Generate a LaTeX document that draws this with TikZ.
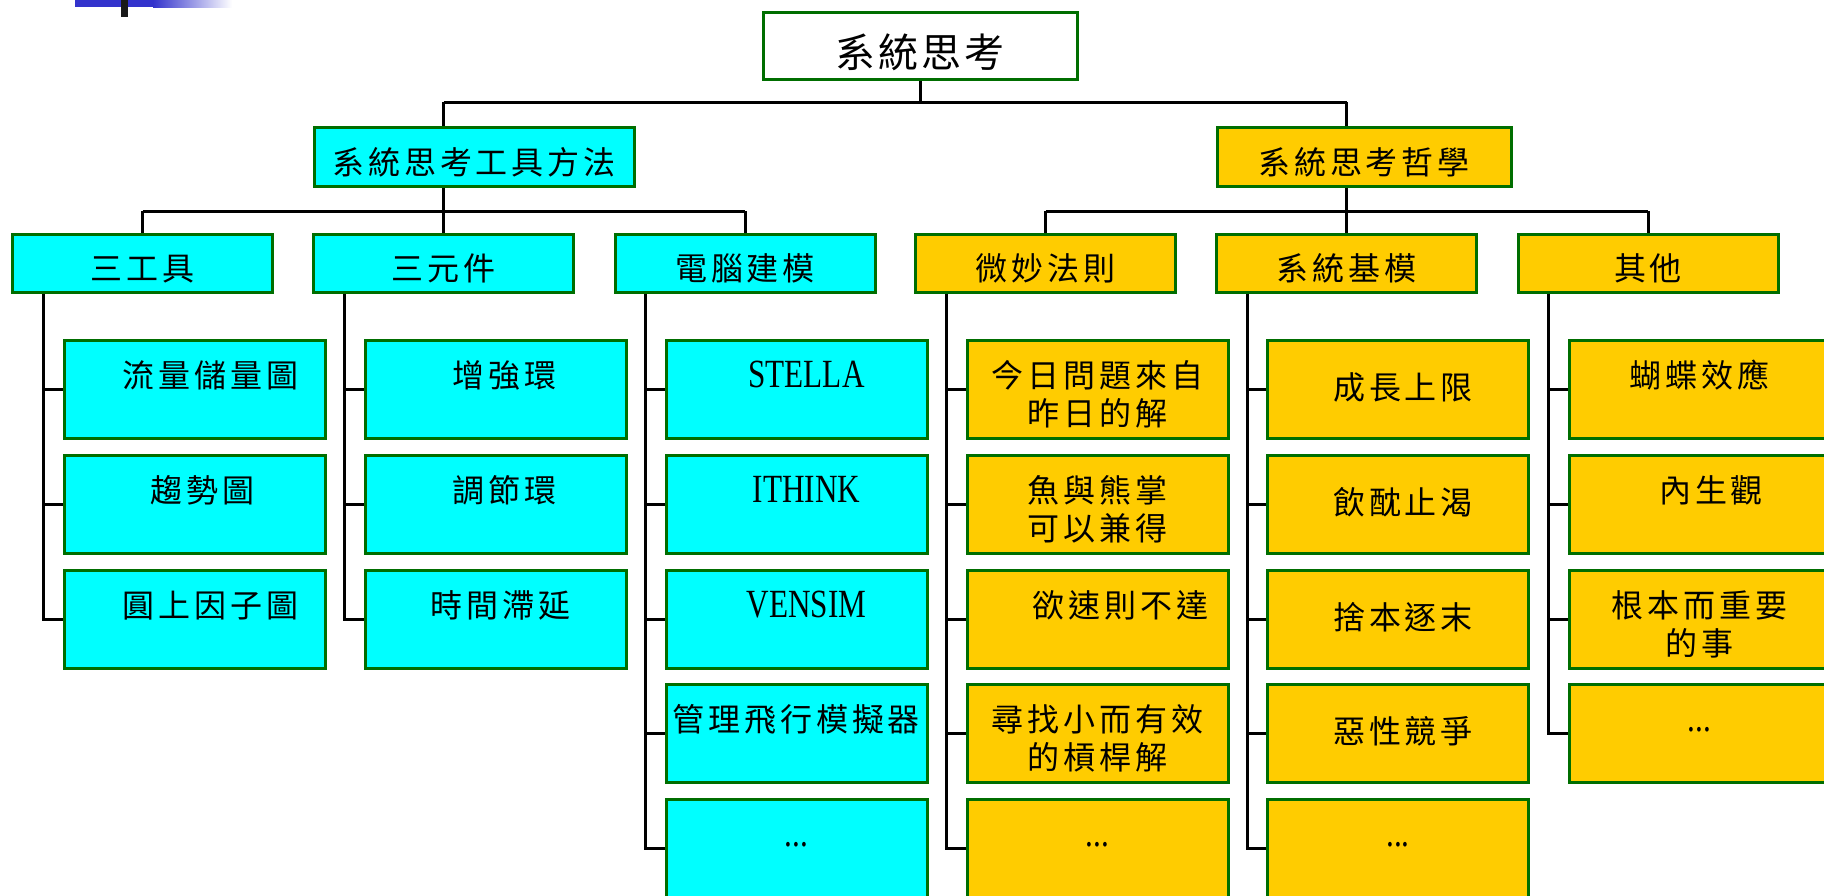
\documentclass[tikz,border=0pt]{standalone}
\usepackage{fontspec}
\newfontfamily\cjk[LetterSpace=12]{Noto Sans CJK TC}
\newfontfamily\cjktop[LetterSpace=8]{Noto Sans CJK TC}
\newfontfamily\lat[FakeStretch=0.78]{Liberation Serif}
\definecolor{boxgreen}{RGB}{0,110,0}
\definecolor{toolcyan}{RGB}{0,255,255}
\definecolor{philgold}{RGB}{255,204,0}
\definecolor{barblue}{RGB}{51,51,204}
\tikzset{
  box/.style={draw=boxgreen, line width=3pt, inner sep=0pt, align=center,
    font=\cjk\fontsize{32}{38}\selectfont},
  toolbox/.style={box, fill=toolcyan},
  philbox/.style={box, fill=philgold},
  headbox/.style={minimum width=260pt, minimum height=58pt, text height=46pt, text depth=12pt},
  leafbox/.style={minimum width=261pt, text width=261pt, text height=47pt, text depth=51pt},
  midleaf/.style={leafbox, text height=59pt, text depth=39pt},
  nudge/.style={execute at begin node=\hspace*{#1}},
  latin/.style={font=\lat\fontsize{40}{44}\selectfont},
  link/.style={line width=3pt},
}
\begin{document}
\begin{tikzpicture}[x=1pt,y=-1pt]
  \useasboundingbox (0,0) rectangle (1824,895);
  \clip (0,0) rectangle (1824,895);
  % corner mark
  \fill[barblue] (75,0) rectangle (154,7);
  \shade[left color=barblue, right color=white] (153,0) rectangle (232,7);
  \fill[black!90] (121,0) rectangle (128,17);

  \node[box, fill=white, minimum width=314pt, minimum height=67pt, text height=55pt,
    text depth=12pt, font=\cjktop\fontsize{40}{44}\selectfont] (top) at (920,45.5) {系統思考};
  \node[toolbox, minimum width=320pt, minimum height=59pt, text height=47pt, text depth=12pt]
    (tools) at (474,156.5) {系統思考工具方法};
  \node[philbox, minimum width=294pt, minimum height=59pt, text height=47pt, text depth=12pt]
    (phil) at (1364,156.5) {系統思考哲學};

  \node[toolbox, headbox] (t1) at (142.5,263) {三工具};
  \node[toolbox, headbox] (t2) at (443.5,263) {三元件};
  \node[toolbox, headbox] (t3) at (745,263) {電腦建模};
  \node[philbox, headbox] (p1) at (1045.5,263) {微妙法則};
  \node[philbox, headbox] (p2) at (1346.5,263) {系統基模};
  \node[philbox, headbox] (p3) at (1648,263) {其他};

  % tools
  \node[toolbox, leafbox, nudge=32pt] (c11) at (194.5,389) {流量儲量圖};
  \node[toolbox, leafbox, nudge=16pt] (c12) at (194.5,504) {趨勢圖};
  \node[toolbox, leafbox, nudge=32pt] (c13) at (194.5,619) {圓上因子圖};
  \node[toolbox, leafbox, nudge=18pt] (c21) at (495.5,389) {增強環};
  \node[toolbox, leafbox, nudge=18pt] (c22) at (495.5,504) {調節環};
  \node[toolbox, leafbox, nudge=10pt] (c23) at (495.5,619) {時間滯延};
  \node[toolbox, leafbox, latin, nudge=20pt] (c31) at (796.5,389) {STELLA};
  \node[toolbox, leafbox, latin, nudge=20pt] (c32) at (796.5,504) {ITHINK};
  \node[toolbox, leafbox, latin, nudge=20pt] (c33) at (796.5,619) {VENSIM};
  \node[toolbox, leafbox] (c34) at (796.5,733.5) {管理飛行模擬器};
  \node[toolbox, leafbox, latin] (c35) at (796.5,848) {...};
  % philosophy
  \node[philbox, leafbox] (d11) at (1097.5,389) {今日問題來自\\昨日的解};
  \node[philbox, leafbox] (d12) at (1097.5,504) {魚與熊掌\\可以兼得};
  \node[philbox, leafbox, nudge=46pt] (d13) at (1097.5,619) {欲速則不達};
  \node[philbox, leafbox] (d14) at (1097.5,733.5) {尋找小而有效\\的槓桿解};
  \node[philbox, leafbox, latin] (d15) at (1097.5,848) {...};
  \node[philbox, midleaf, nudge=10pt] (d21) at (1398,389) {成長上限};
  \node[philbox, midleaf, nudge=10pt] (d22) at (1398,504) {飲酖止渴};
  \node[philbox, midleaf, nudge=10pt] (d23) at (1398,619) {捨本逐末};
  \node[philbox, midleaf, nudge=10pt] (d24) at (1398,733.5) {惡性競爭};
  \node[philbox, leafbox, latin] (d25) at (1398,848) {...};
  \node[philbox, leafbox] (d31) at (1699.5,389) {蝴蝶效應};
  \node[philbox, leafbox, nudge=23pt] (d32) at (1699.5,504) {內生觀};
  \node[philbox, leafbox] (d33) at (1699.5,619) {根本而重要\\的事};
  \node[philbox, leafbox, latin] (d34) at (1699.5,733.5) {...};

  \coordinate (bus0) at (0,102);
  \coordinate (bus1) at (0,211);
  \coordinate (s1) at ([xshift=32pt]t1.south west);
  \coordinate (s2) at ([xshift=32pt]t2.south west);
  \coordinate (s3) at ([xshift=32pt]t3.south west);
  \coordinate (s4) at ([xshift=32pt]p1.south west);
  \coordinate (s5) at ([xshift=32pt]p2.south west);
  \coordinate (s6) at ([xshift=32pt]p3.south west);

  \draw[link] (top.south) -- (top |- bus0);
  \draw[link] (t2 |- bus0) -- (p2 |- bus0);
  \draw[link] (t2 |- bus0) -- (t2 |- tools.north);
  \draw[link] (p2 |- bus0) -- (p2 |- phil.north);
  \draw[link] (t2 |- tools.south) -- (t2.north);
  \draw[link] (p2 |- phil.south) -- (p2.north);
  \draw[link] (t1 |- bus1) -- (t3 |- bus1);
  \draw[link] (p1 |- bus1) -- (p3 |- bus1);
  \draw[link] (t1 |- bus1) -- (t1.north);
  \draw[link] (t3 |- bus1) -- (t3.north);
  \draw[link] (p1 |- bus1) -- (p1.north);
  \draw[link] (p3 |- bus1) -- (p3.north);

  \draw[link] (s1) |- (c13.west) (s1 |- c11.west) -- (c11.west) (s1 |- c12.west) -- (c12.west);
  \draw[link] (s2) |- (c23.west) (s2 |- c21.west) -- (c21.west) (s2 |- c22.west) -- (c22.west);
  \draw[link] (s3) |- (c35.west) (s3 |- c31.west) -- (c31.west) (s3 |- c32.west) -- (c32.west)
    (s3 |- c33.west) -- (c33.west) (s3 |- c34.west) -- (c34.west);
  \draw[link] (s4) |- (d15.west) (s4 |- d11.west) -- (d11.west) (s4 |- d12.west) -- (d12.west)
    (s4 |- d13.west) -- (d13.west) (s4 |- d14.west) -- (d14.west);
  \draw[link] (s5) |- (d25.west) (s5 |- d21.west) -- (d21.west) (s5 |- d22.west) -- (d22.west)
    (s5 |- d23.west) -- (d23.west) (s5 |- d24.west) -- (d24.west);
  \draw[link] (s6) |- (d34.west) (s6 |- d31.west) -- (d31.west) (s6 |- d32.west) -- (d32.west)
    (s6 |- d33.west) -- (d33.west);
\end{tikzpicture}
\end{document}
